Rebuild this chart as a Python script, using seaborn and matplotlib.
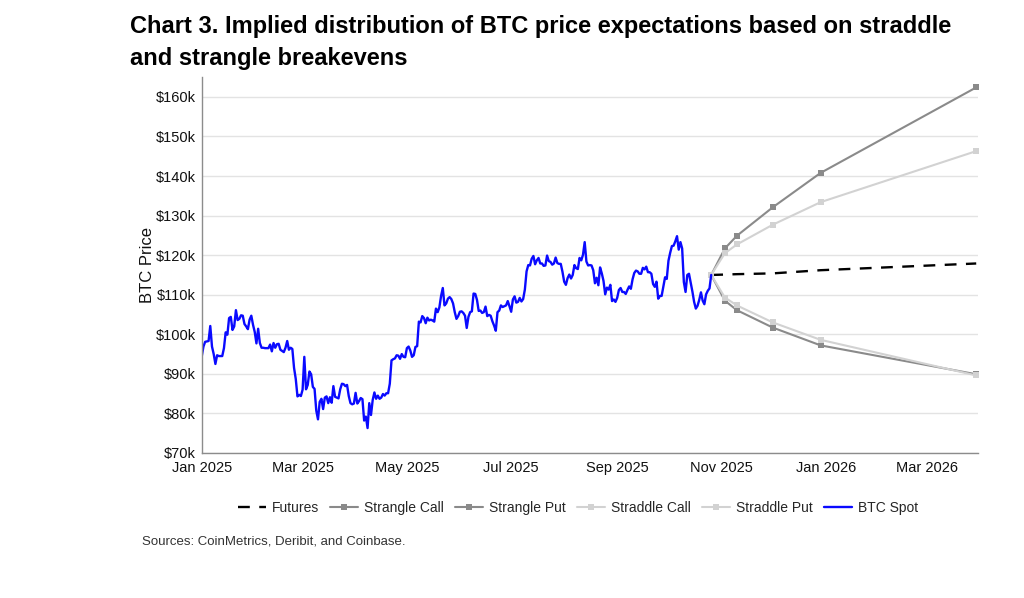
"""Chart 3: implied distribution of BTC price from straddle / strangle breakevens."""

import matplotlib

matplotlib.use("Agg")
import matplotlib.dates as mdates
import matplotlib.pyplot as plt
import matplotlib.ticker as mticker
import numpy as np
import pandas as pd
import seaborn as sns

# BTC spot, daily closes in $k, 2025-01-01 .. 2025-10-26
spot_jan = [94.4, 96.9, 98.1, 98.2, 98.3, 102.1, 96.9, 95.0, 92.5, 94.7, 94.5, 94.5, 94.5, 96.5,
            100.5, 99.9, 104.1, 104.4, 101.1, 102.0, 106.1, 103.6, 103.9, 104.8, 104.7, 102.6,
            102.0, 101.3, 103.7, 104.7, 102.4]
spot_feb = [100.6, 97.7, 101.4, 97.8, 96.6, 96.6, 96.5, 96.5, 96.5, 97.4, 95.7, 97.8, 96.6, 97.5,
            97.6, 96.1, 95.8, 95.5, 96.6, 98.3, 96.1, 96.6, 96.3, 91.5, 88.7, 84.3, 84.7, 84.4]
spot_mar = [86.0, 94.3, 86.1, 87.2, 90.6, 89.9, 86.7, 86.2, 80.7, 78.5, 82.9, 83.7, 81.1, 84.0,
            84.3, 82.6, 84.1, 82.7, 86.9, 84.2, 84.0, 83.8, 86.1, 87.5, 87.4, 86.9, 87.2, 84.4,
            82.6, 82.3, 82.5]
spot_apr = [85.2, 82.5, 83.1, 83.9, 83.6, 78.2, 79.2, 76.3, 82.6, 79.6, 83.4, 85.3, 83.7, 84.5,
            83.7, 84.0, 84.9, 84.5, 85.1, 85.1, 87.5, 93.4, 93.7, 93.9, 94.7, 94.6, 93.8, 95.0,
            94.3, 94.2]
spot_may = [96.5, 96.9, 95.9, 94.3, 94.7, 96.8, 97.0, 103.2, 103.0, 104.6, 104.1, 102.8, 104.2,
            103.5, 103.7, 103.5, 103.2, 106.5, 105.6, 106.8, 109.7, 111.7, 107.3, 107.8, 109.0,
            109.4, 108.9, 107.8, 105.6, 103.9, 104.6]
spot_jun = [105.7, 105.8, 105.4, 104.7, 101.6, 104.4, 105.6, 105.8, 110.3, 110.2, 108.7, 105.9,
            106.0, 105.4, 105.6, 107.0, 104.6, 104.9, 104.7, 103.3, 102.2, 100.9, 105.6, 106.0,
            107.3, 106.9, 107.1, 107.3, 108.4, 107.1]
spot_jul = [105.7, 108.8, 109.6, 108.0, 108.2, 109.2, 108.3, 108.9, 111.3, 115.9, 117.5, 117.4,
            119.1, 119.8, 117.7, 118.7, 119.3, 117.9, 117.9, 117.3, 117.4, 119.9, 118.5, 118.3,
            117.6, 117.9, 119.4, 118.0, 117.8, 117.8, 115.8]
spot_aug = [113.3, 112.5, 114.2, 115.1, 114.1, 115.0, 117.5, 116.7, 116.5, 119.3, 118.7, 120.1,
            123.3, 118.4, 117.4, 117.5, 117.4, 116.2, 112.9, 114.3, 112.4, 116.9, 115.4, 113.5,
            110.1, 111.8, 111.3, 112.5, 108.4, 108.8, 108.2]
spot_sep = [109.2, 111.2, 111.7, 110.7, 110.7, 110.2, 111.2, 112.1, 111.5, 113.9, 115.5, 116.1,
            115.9, 115.3, 115.3, 116.8, 116.4, 117.1, 115.7, 115.7, 115.3, 112.7, 112.0, 113.3,
            109.0, 109.7, 109.7, 112.1, 114.4, 114.0]
spot_oct = [118.6, 120.6, 122.3, 122.4, 123.5, 124.8, 121.4, 123.3, 121.7, 113.2, 110.7, 115.0,
            115.3, 113.1, 110.8, 108.2, 106.5, 107.2, 108.7, 110.6, 108.5, 107.6, 110.1, 111.0,
            111.6, 115.0]

# breakeven curves: spot date then the option expiries, values in $k
fan_dates = ["2025-10-26", "2025-11-03", "2025-11-10", "2025-12-01", "2025-12-29", "2026-03-30"]
futures = [115.0, 115.1, 115.2, 115.4, 116.2, 117.9]
strangle_call = [115.0, 121.7, 124.9, 132.1, 140.8, 162.4]
strangle_put = [115.0, 108.5, 106.1, 101.7, 97.2, 89.9]
straddle_call = [115.0, 120.5, 122.7, 127.7, 133.4, 146.3]
straddle_put = [115.0, 109.3, 107.3, 103.0, 98.6, 89.6]

spot_vals = (spot_jan + spot_feb + spot_mar + spot_apr + spot_may + spot_jun + spot_jul
             + spot_aug + spot_sep + spot_oct)
spot = pd.DataFrame({
    "date": pd.date_range("2025-01-01", periods=len(spot_vals), freq="D"),
    "price": np.array(spot_vals) * 1000,
})
fan = pd.DataFrame({"date": pd.to_datetime(fan_dates)})

sns.set_theme(style="white")
plt.rcParams["font.family"] = ["Liberation Sans", "DejaVu Sans"]

fig = plt.figure(figsize=(10.24, 5.98), dpi=100)
ax = fig.add_axes([0.197, 0.2425, 0.758, 0.6285])

ax.grid(axis="y", color="#e3e3e3", linewidth=1.0)
ax.set_axisbelow(True)

DARK_GREY = "#8a8a8a"
LIGHT_GREY = "#d2d2d2"

sns.lineplot(x=fan["date"], y=np.array(futures) * 1000, ax=ax, color="black",
             linewidth=1.7, linestyle=(0, (5, 4)), label="Futures")
sns.lineplot(x=fan["date"], y=np.array(strangle_call) * 1000, ax=ax, color=DARK_GREY,
             linewidth=1.5, marker="s", markersize=4, markeredgewidth=0, label="Strangle Call")
sns.lineplot(x=fan["date"], y=np.array(strangle_put) * 1000, ax=ax, color=DARK_GREY,
             linewidth=1.5, marker="s", markersize=4, markeredgewidth=0, label="Strangle Put")
sns.lineplot(x=fan["date"], y=np.array(straddle_call) * 1000, ax=ax, color=LIGHT_GREY,
             linewidth=1.5, marker="s", markersize=4, markeredgewidth=0, label="Straddle Call")
sns.lineplot(x=fan["date"], y=np.array(straddle_put) * 1000, ax=ax, color=LIGHT_GREY,
             linewidth=1.5, marker="s", markersize=4, markeredgewidth=0, label="Straddle Put")
sns.lineplot(data=spot, x="date", y="price", ax=ax, color="#0a0aff", linewidth=1.7,
             label="BTC Spot")

ax.set_xlim(pd.Timestamp("2025-01-01"), pd.Timestamp("2026-03-31"))
ax.set_ylim(70000, 165000)
ax.yaxis.set_major_locator(mticker.MultipleLocator(10000))
ax.yaxis.set_major_formatter(mticker.FuncFormatter(lambda v, _: f"${v / 1000:.0f}k"))
ax.xaxis.set_major_locator(mdates.MonthLocator(bymonth=[1, 3, 5, 7, 9, 11]))
ax.xaxis.set_major_formatter(mdates.DateFormatter("%b %Y"))
ax.tick_params(axis="both", length=0, labelsize=10.5, colors="#111111")
ax.tick_params(axis="y", pad=4)
ax.tick_params(axis="x", pad=6)

ax.set_xlabel("")
ax.set_ylabel("BTC Price", fontsize=12, color="#111111", labelpad=1)

for side in ["top", "right"]:
    ax.spines[side].set_visible(False)
for side in ["left", "bottom"]:
    ax.spines[side].set_color("#8c8c8c")
    ax.spines[side].set_linewidth(1.0)

ax.legend(loc="upper center", bbox_to_anchor=(0.485, -0.095), ncol=6, frameon=False,
          fontsize=10, handlelength=2.0, columnspacing=0.8, handletextpad=0.45)

fig.text(0.127, 0.975, "Chart 3. Implied distribution of BTC price expectations based on "
         "straddle\nand strangle breakevens", ha="left", va="top", fontsize=17,
         fontweight="bold", linespacing=1.5, color="black")
fig.text(0.139, 0.095, "Sources: CoinMetrics, Deribit, and Coinbase.", ha="left",
         va="center", fontsize=9.5, color="#333333")

fig.savefig("out.png", dpi=100)
plt.close(fig)
